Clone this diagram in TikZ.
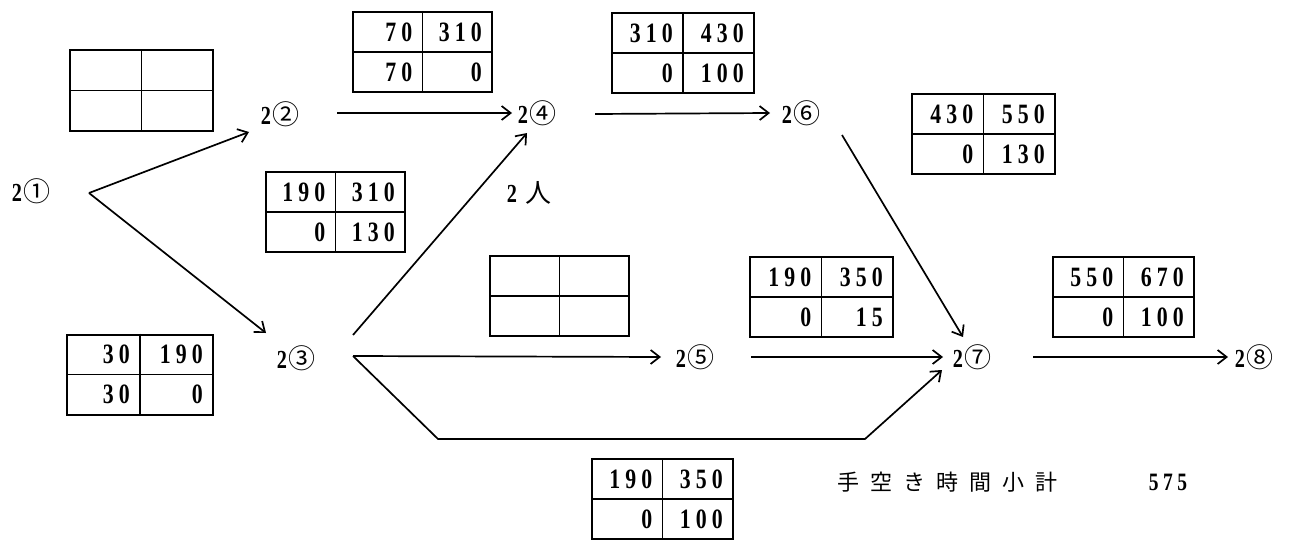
\documentclass[tikz,border=0pt]{standalone}
\usepackage{fontspec}
\usetikzlibrary{arrows.meta,calc}
\newfontfamily\numfont{Liberation Serif}[FakeStretch=0.78,LetterSpace=18]
\newfontfamily\cjk{Noto Sans CJK JP}
\newfontfamily\cjksp{Noto Sans CJK JP}[LetterSpace=50]
\newcommand{\evl}[1]{{\numfont\bfseries\fontsize{26}{26}\selectfont 2}\hspace{1pt}{\cjk\fontsize{27}{27}\selectfont #1}}
\tikzset{
  gridbox/.style={draw, line width=2pt, minimum height=80pt, inner sep=0pt},
  gridin/.style={line width=1.6pt},
  num/.style={font=\numfont\bfseries\fontsize{28}{28}\selectfont, inner sep=0pt, anchor=east},
  ev/.style={inner sep=0pt},
  arr/.style={line width=1.7pt, -{Straight Barb[length=9pt,width=14pt,line width=1.7pt]}},
  ln/.style={line width=1.7pt}
}
% #1 name, #2 cx, #3 cy, #4 width, #5 TL, #6 TR, #7 BL, #8 BR
\newcommand{\evbox}[8]{%
  \node[gridbox, minimum width=#4pt] (#1) at (#2,#3) {};
  \draw[gridin] (#1.north) -- (#1.south);
  \draw[gridin] (#1.west) -- (#1.east);
  \node[num] (#1tl) at ({#2-10},{#3-20}) {#5};
  \node[num] (#1tr) at ({#2+#4/2-10},{#3-20}) {#6};
  \node[num] (#1bl) at ({#2-10},{#3+20}) {#7};
  \node[num] (#1br) at ({#2+#4/2-10},{#3+20}) {#8};
}
\begin{document}
\begin{tikzpicture}[x=1pt,y=-1pt]
\useasboundingbox (0,0) rectangle (1293,543);
% event nodes
\node[ev] (n1) at (31,191) {\evl{①}};
\node[ev] (n2) at (280,114) {\evl{②}};
\node[ev] (n3) at (296,358) {\evl{③}};
\node[ev] (n4) at (537,113) {\evl{④}};
\node[ev] (n5) at (695,357) {\evl{⑤}};
\node[ev] (n6) at (801,113) {\evl{⑥}};
\node[ev] (n7) at (972,357) {\evl{⑦}};
\node[ev] (n8) at (1254,357) {\evl{⑧}};
% boxes
\evbox{bA}{141.5}{90.5}{143}{}{}{}{}
\evbox{bB}{422.5}{52}{139}{70}{310}{70}{0}
\evbox{bC}{683}{53}{142}{310}{430}{0}{100}
\evbox{bD}{335.5}{212}{139}{190}{310}{0}{130}
\evbox{bE}{983.5}{134}{143}{430}{550}{0}{130}
\evbox{bF}{140}{374.5}{146}{30}{190}{30}{0}
\evbox{bG}{559.5}{296}{139}{}{}{}{}
\evbox{bH}{821.5}{297}{143}{190}{350}{0}{15}
\evbox{bI}{1123.5}{297}{141}{550}{670}{0}{100}
\evbox{bJ}{662.5}{499}{141}{190}{350}{0}{100}
% connectors
\draw[arr] ($(n1)+(58,2)$) -- ($(n2)+(-31,18)$);
\draw[arr] ($(n1)+(58,2)$) -- ($(n3)+(-30,-25)$);
\draw[arr] ($(n2)+(57,-1)$) -- ($(n4)+(-25,0)$);
\draw[arr] ($(n3)+(57,-23)$) -- ($(n4)+(-10,20)$);
\draw[arr] ($(n3)+(57,-2)$) -- ($(n5)+(-34,0)$);
\draw[arr] ($(n3)+(57,-2)$) -- ++(85,83) -- ++(427,0) -- ($(n7)+(-30,13)$);
\draw[arr] ($(n4)+(58,1)$) -- ($(n6)+(-31,0)$);
\draw[arr] ($(n5)+(56,0)$) -- ($(n7)+(-29,0)$);
\draw[arr] ($(n6)+(41,22)$) -- ($(n7)+(-9,-20)$);
\draw[arr] ($(n7)+(61,0)$) -- ($(n8)+(-26,0)$);
% labels
\node[ev] (ppl) at (529,193) {{\numfont\bfseries\fontsize{26}{26}\selectfont 2}\hspace{8pt}{\cjk\fontsize{26}{26}\selectfont 人}};
\node[ev] (lbl) at (947,482) {\cjksp\fontsize{22}{22}\selectfont 手空き時間小計};
\node[ev] (tot) at (1168,482) {\numfont\bfseries\fontsize{25}{25}\selectfont 575};
\end{tikzpicture}
\end{document}
